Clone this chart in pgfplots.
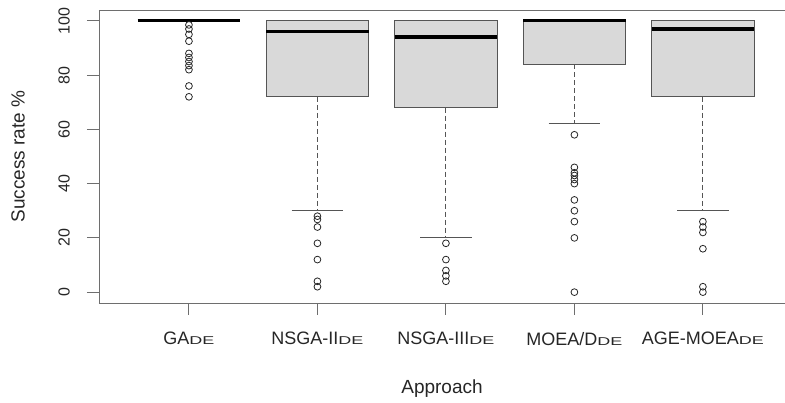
\documentclass[border=0pt]{standalone}
\usepackage{fontspec}
\setmainfont{Liberation Sans}
\usepackage{graphicx}
\usepackage{pgfplots}
\pgfplotsset{compat=1.18}
\newcommand{\de}{\scalebox{1}[0.63]{DE}}
\definecolor{boxfill}{RGB}{217,217,217}
\definecolor{boxdraw}{RGB}{85,85,85}
\definecolor{axgray}{RGB}{110,110,110}
\pgfplotsset{
  bx/.style={draw=boxdraw, fill=boxfill, line width=0.9pt},
  md/.style={black, line width=3.3pt},
  wh/.style={boxdraw, line width=0.9pt, dash pattern=on 5pt off 3pt},
  cap/.style={boxdraw, line width=0.9pt},
  out/.style={only marks, mark=o, mark size=3.4pt, mark options={black!85, line width=0.8pt}},
}
\begin{document}
\begin{tikzpicture}
\useasboundingbox (0pt,0pt) rectangle (785pt,403pt);
\begin{axis}[
  at={(99pt,100pt)}, anchor=south west,
  scale only axis, width=686pt, height=293pt,
  xmin=0.3, xmax=5.639, ymin=-4, ymax=104,
  axis x line=box, axis y line=left,
  axis line style={axgray, line width=0.9pt, -},
  xtick={1,2,3,4,5},
  xticklabels={GA\de, NSGA-II\de, NSGA-III\de, MOEA/D\de, AGE-MOEA\de},
  ytick={0,20,40,60,80,100},
  tick align=outside, major tick length=12pt,
  tick pos=left,
  tick style={axgray, line width=0.9pt},
  /pgf/number format/assume math mode=true,
  yticklabel style={font=\fontsize{16}{19}\selectfont, text=black!85, rotate=90, anchor=south, inner sep=0pt, yshift=17pt},
  xticklabel style={font=\fontsize{18}{21}\selectfont, text=black!85, anchor=north, inner sep=0pt, yshift=-17pt},
  every axis y label/.style={at={(axis description cs:-0.118,0.5)}, rotate=90, anchor=center, font=\fontsize{19}{22}\selectfont, text=black!85},
  every axis x label/.style={at={(axis description cs:0.5,-0.292)}, anchor=center, font=\fontsize{19}{22}\selectfont, text=black!85},
  ylabel={Success rate \%},
  xlabel={Approach},
]
% ---- GA_DE: all quartiles at 100
\addplot[md] coordinates {(0.6,100)(1.4,100)};
\addplot[out] coordinates {(1,98.5)(1,97)(1,95)(1,92.5)(1,88)(1,86.5)(1,85)(1,83.5)(1,82)(1,76)(1,72)};
% ---- NSGA-II_DE: wl=30 q1=72 med=96 q3=100
\addplot[wh] coordinates {(2,72)(2,30)};
\addplot[cap] coordinates {(1.8,30)(2.2,30)};
\addplot[bx] coordinates {(1.6,72)(2.4,72)(2.4,100)(1.6,100)} -- cycle;
\addplot[md] coordinates {(1.6,96)(2.4,96)};
\addplot[out] coordinates {(2,28)(2,26.8)(2,24)(2,18)(2,12)(2,4)(2,2)};
% ---- NSGA-III_DE: wl=20 q1=68 med=94 q3=100
\addplot[wh] coordinates {(3,68)(3,20)};
\addplot[cap] coordinates {(2.8,20)(3.2,20)};
\addplot[bx] coordinates {(2.6,68)(3.4,68)(3.4,100)(2.6,100)} -- cycle;
\addplot[md] coordinates {(2.6,94)(3.4,94)};
\addplot[out] coordinates {(3,18)(3,12)(3,8)(3,6)(3,4)};
% ---- MOEA/D_DE: wl=62 q1=84 med=100 q3=100
\addplot[wh] coordinates {(4,84)(4,62)};
\addplot[cap] coordinates {(3.8,62)(4.2,62)};
\addplot[bx] coordinates {(3.6,84)(4.4,84)(4.4,100)(3.6,100)} -- cycle;
\addplot[md] coordinates {(3.6,100)(4.4,100)};
\addplot[out] coordinates {(4,58)(4,46)(4,44)(4,43)(4,41.5)(4,40)(4,34)(4,30)(4,26)(4,20)(4,0)};
% ---- AGE-MOEA_DE: wl=30 q1=72 med=97 q3=100
\addplot[wh] coordinates {(5,72)(5,30)};
\addplot[cap] coordinates {(4.8,30)(5.2,30)};
\addplot[bx] coordinates {(4.6,72)(5.4,72)(5.4,100)(4.6,100)} -- cycle;
\addplot[md] coordinates {(4.6,97)(5.4,97)};
\addplot[out] coordinates {(5,26)(5,24)(5,22)(5,16)(5,2)(5,0)};
\end{axis}
\end{tikzpicture}
\end{document}
